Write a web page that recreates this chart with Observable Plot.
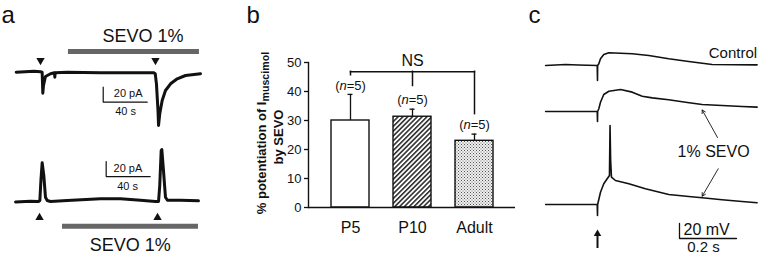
<!DOCTYPE html>
<html><head><meta charset="utf-8">
<script src="https://cdn.jsdelivr.net/npm/d3@7"></script>
<script src="https://cdn.jsdelivr.net/npm/@observablehq/plot@0.6"></script>
<style>
body{margin:0;background:#fff;}
#fig{position:relative;width:760px;height:256px;background:#fff;overflow:hidden;}
#fig>div{position:absolute;top:0;}
#fig svg{overflow:visible;display:block;}
</style></head><body><div id="fig"></div>
<script>
// ================= DATA =================
// Panel a: whole-cell currents (time in s from start of trace, current in pA relative to baseline)
const aTopTime       = [0, 16, 22.1, 23.6, 24.2, 24.8, 26.6, 31.2, 34.8, 35.1, 35.5, 46.4, 76.6, 106.6, 125.1, 126.4, 127.5, 128.9, 129.4, 130.5, 132.7, 135.7, 140.3, 146.4, 153.9, 167.5];
const aTopCurrent    = [0, 1.3, 0.5, 0, -28, -17.7, -5.7, -2.1, -0.8, -6.7, -0.8, 0, -0.8, -0.8, -0.8, -2.1, -15.5, -51, -71, -55.5, -37.7, -24.4, -15.5, -8.8, -4.4, -2.1];
const aBottomTime    = [-0.6, 13, 20.3, 21.5, 22.5, 23.6, 25.1, 26.6, 28.2, 31.2, 46.4, 76.6, 94.8, 113, 126.6, 129.4, 130.5, 131.8, 132.4, 133.9, 135.7, 137.5, 149.5, 165.7];
const aBottomCurrent = [-0.7, 0.4, 0, 1.3, 28.9, 51.6, 34.7, 5.7, 1.3, 0, 1.3, 3.6, 3.6, 1.7, 0, 0, 21.3, 68, 69.3, 41.3, 5.7, 1.7, 1.7, 0.9];
const aTopPuffTimes    = [22.1, 126.6];
const aBottomPuffTimes = [21.2, 128.5];
const aTopSevo    = [47.5, 166.6];   // application start / end (s)
const aBottomSevo = [42.1, 165.7];
const aSevoLabel  = "SEVO 1%";
const aScaleBar   = [20, 40];        // pA, s

// Panel b: % potentiation of I_muscimol by SEVO
const ages            = ["P5", "P10", "Adult"];
const potentiation    = [30.0, 31.3, 23.0];
const potentiationSem = [9.0, 2.6, 2.3];
const nCells          = [5, 5, 5];
const yTicksB         = [0, 10, 20, 30, 40, 50];
const nsLegEnds       = [45.6, 41.9, 32.2];
const nsTop           = 46.8;

// Panel c: membrane potential (time in ms from stimulus, mV relative to resting level)
const cControlTime = [-182, -112, -67, -1, 0, 0.5, 4.6, 10.5, 22, 40, 122, 180, 250, 320, 402, 484, 560];
const cControlV    = [0, 1.3, 0.7, 0, -20, 0, 2.3, 8.9, 14.7, 16.9, 15.6, 13.3, 8.9, 5.3, 1.3, 0.9, 0.9];
const cSevoTime    = [-182, -1, 0, 0.5, 4.6, 10.5, 22, 40, 81, 122, 157, 192, 250, 309, 367, 437, 507, 560];
const cSevoV       = [0, 0, -13.3, 0, 3.6, 12.4, 22.7, 27, 29.3, 25.8, 20.4, 18.2, 15.6, 12.4, 9.3, 8, 6.7, 5.8];
const cSpikeTime   = [-182, -1, 0, 0.5, 10.5, 22, 34, 42, 44, 46, 49, 63, 110, 168, 250, 320, 367, 437, 507, 560];
const cSpikeV      = [0, 0, -14.7, 0, 16.4, 27.6, 34.3, 38.7, 105.3, 60, 36.4, 32, 27.6, 20.9, 13.3, 10.7, 8.9, 6.3, 4, 2.3];
const cScaleBar    = [20, 200];      // mV, ms

// ================= LAYOUT =================
const FONT = '"Liberation Sans", Arial, Helvetica, sans-serif';
const INK = "#111";
const H = 256;
const PER_PX = 20 / 15;   // pA (or mV) per pixel
const fig = document.getElementById("fig");
function place(svg, left) { const d = document.createElement("div"); d.style.left = left + "px"; d.appendChild(svg); fig.appendChild(d); return svg; }
const rows = (xs, ys) => xs.map((x, i) => ({x, y: ys[i]}));
const traceY = (basePx) => ({domain: [(basePx - H) * PER_PX, basePx * PER_PX], axis: null});
const style = {fontFamily: FONT, background: "transparent", color: INK, overflow: "visible"};
const lShape = (cx, cy, up, right) => [[cx, cy + up], [cx, cy], [cx + right, cy]];
const panelLabel = (t, dx) => Plot.text([t], {frameAnchor: "top-left", textAnchor: "start", dx, dy: 5, lineAnchor: "top", fontSize: 24, fill: INK});

// ---------- panel a ----------
const A_W = 230, A_PX_PER_S = 1.1, A_T0 = 15.7;
const aX = {domain: [-A_T0 / A_PX_PER_S, (A_W - A_T0) / A_PX_PER_S], axis: null};

place(Plot.plot({
  width: A_W, height: H, margin: 0, style, x: aX, y: traceY(71.7),
  marks: [
    panelLabel("a", 1),
    Plot.text([aSevoLabel], {x: 115.3, y: 47.6, fontSize: 18, fill: INK}),
    Plot.ruleY([aTopSevo], {y: 27.6, x1: d => d[0], x2: d => d[1], stroke: "#666", strokeWidth: 5}),
    Plot.dot(aTopPuffTimes, {x: d => d, y: 15.6, symbol: "triangle", r: 3.1, fill: INK, stroke: "none", rotate: 180}),
    Plot.line(rows(aTopTime, aTopCurrent), {x: "x", y: "y", stroke: INK, strokeWidth: 3}),
    Plot.line(lShape(79.1, -40, aScaleBar[0], aScaleBar[1]), {x: d => d[0], y: d => d[1], stroke: INK, strokeWidth: 1.2, strokeLinejoin: "miter"}),
    Plot.text([`${aScaleBar[0]} pA`], {x: 88.7, y: -28.8, textAnchor: "start", fontSize: 11, fill: INK}),
    Plot.text([`${aScaleBar[1]} s`], {x: 99.4, y: -52, fontSize: 11, fill: INK})
  ]
}), 0);

place(Plot.plot({
  width: A_W, height: H, margin: 0, style, x: aX, y: traceY(201),
  marks: [
    Plot.line(rows(aBottomTime, aBottomCurrent), {x: "x", y: "y", stroke: INK, strokeWidth: 3}),
    Plot.line(lShape(81.8, 33.3, aScaleBar[0], aScaleBar[1]), {x: d => d[0], y: d => d[1], stroke: INK, strokeWidth: 1.2, strokeLinejoin: "miter"}),
    Plot.text([`${aScaleBar[0]} pA`], {x: 88.5, y: 44, textAnchor: "start", fontSize: 11, fill: INK}),
    Plot.text([`${aScaleBar[1]} s`], {x: 101.2, y: 20, fontSize: 11, fill: INK}),
    Plot.dot(aBottomPuffTimes, {x: d => d, y: -21.3, symbol: "triangle", r: 3.1, fill: INK, stroke: "none"}),
    Plot.ruleY([aBottomSevo], {y: -32.9, x1: d => d[0], x2: d => d[1], stroke: "#666", strokeWidth: 5}),
    Plot.text([aSevoLabel], {x: 103.6, y: -58.7, fontSize: 18, fill: INK})
  ]
}), 0);

// ---------- panel b ----------
const bRows = ages.map((age, i) => ({age, mean: potentiation[i], top: potentiation[i] + potentiationSem[i], n: nCells[i]}));
const barFill = {P5: "white", P10: "url(#hatchB)", Adult: "url(#stippleB)"};
const Y_LABEL_1 = "% potentiation of Imuscimol";
const Y_LABEL_2 = "by SEVO";
const svgB = place(Plot.plot({
  width: 300, height: H, marginLeft: 78, marginRight: 15, marginTop: 62, marginBottom: 49, style,
  x: {domain: ages, paddingInner: 0.39, paddingOuter: 0.36, axis: null},
  y: {domain: [0, 50], axis: null},
  marks: [
    Plot.text(["b"], {frameAnchor: "top-left", textAnchor: "start", dx: -62, dy: -57, lineAnchor: "top", fontSize: 24, fill: INK}),
    Plot.ruleX(bRows, {x: "age", y1: "mean", y2: "top", stroke: INK, strokeWidth: 1.3}),
    Plot.tickY(bRows, {x: "age", y: "top", stroke: INK, strokeWidth: 1.3, insetLeft: 16.5, insetRight: 16.5}),
    ...ages.map(age => Plot.barY(bRows.filter(r => r.age === age), {x: "age", y: "mean", fill: barFill[age], stroke: INK, strokeWidth: 1.4})),
    Plot.frame({anchor: "left", stroke: INK, strokeWidth: 1.4}),
    Plot.ruleY([0], {stroke: INK, strokeWidth: 1.4}),
    Plot.axisY({ticks: yTicksB, tickSize: 4, tickPadding: 3, fontSize: 13, label: null, stroke: INK, strokeWidth: 1.3}),
    Plot.axisX({tickSize: 0, tickPadding: 14, fontSize: 16, label: null}),
    Plot.text([Y_LABEL_1], {frameAnchor: "left", textAnchor: "middle", rotate: -90, dx: -47, dy: -2, fontSize: 13, fontWeight: "bold", fill: INK}),
    Plot.text([Y_LABEL_2], {frameAnchor: "left", textAnchor: "middle", rotate: -90, dx: -30, dy: 2, fontSize: 13, fontWeight: "bold", fill: INK}),
    Plot.ruleX(ages, {x: d => d, y1: nsLegEnds, y2: nsTop, stroke: INK, strokeWidth: 1.5, strokeLinecap: "square"}),
    Plot.line([ages[0], ages[ages.length - 1]], {x: d => d, y: nsTop, stroke: INK, strokeWidth: 1.5, strokeLinecap: "square"}),
    Plot.text(["NS"], {x: () => ages[1], y: nsTop, dy: -11, fontSize: 16, fill: INK}),
    Plot.text(bRows, {x: "age", y: "top", dy: -9, text: d => `(n=${d.n})`, fontSize: 13, fill: INK})
  ]
}), 230);

// patterns + rich text in panel b
(function () {
  const s = d3.select(svgB);
  const defs = s.insert("defs", ":first-child");
  const hatch = defs.append("pattern").attr("id", "hatchB").attr("patternUnits", "userSpaceOnUse")
    .attr("width", 3.4).attr("height", 3.4).attr("patternTransform", "rotate(45)");
  hatch.append("rect").attr("width", 3.4).attr("height", 3.4).attr("fill", "white");
  hatch.append("line").attr("x1", 0.8).attr("y1", 0).attr("x2", 0.8).attr("y2", 3.4).attr("stroke", INK).attr("stroke-width", 1.4);
  const dots = defs.append("pattern").attr("id", "stippleB").attr("patternUnits", "userSpaceOnUse")
    .attr("width", 3).attr("height", 3);
  dots.append("rect").attr("width", 3).attr("height", 3).attr("fill", "#eeeeee");
  dots.append("rect").attr("x", 0).attr("y", 0).attr("width", 1).attr("height", 1).attr("fill", "#555");
  dots.append("rect").attr("x", 1.5).attr("y", 1.5).attr("width", 1).attr("height", 1).attr("fill", "#777");
  s.selectAll("text").each(function () {
    const t = d3.select(this);
    const c = this.textContent;
    if (c === Y_LABEL_1) {
      t.text(null);
      t.append("tspan").text("% potentiation of I");
      t.append("tspan").attr("font-size", "0.82em").attr("dy", "0.35em").text("muscimol");
    } else if (/^\(n=\d+\)$/.test(c)) {
      t.text(null);
      t.append("tspan").text("(");
      t.append("tspan").attr("font-style", "italic").text("n");
      t.append("tspan").text(c.slice(2));
    }
  });
})();

// ---------- panel c ----------
const C_W = 240, C_T0 = 77, C_PX_PER_MS = 0.285;
const cX = {domain: [-C_T0 / C_PX_PER_MS, (C_W - C_T0) / C_PX_PER_MS], axis: null};
const cLine = (t, v) => Plot.line(rows(t, v), {x: "x", y: "y", stroke: INK, strokeWidth: 1.6});

place(Plot.plot({
  width: C_W, height: H, margin: 0, style, x: cX, y: traceY(65),
  marks: [
    panelLabel("c", 8),
    cLine(cControlTime, cControlV),
    Plot.text(["Control"], {x: 560, y: 16.7, textAnchor: "end", fontSize: 15, fill: INK})
  ]
}), 520);

place(Plot.plot({
  width: C_W, height: H, margin: 0, style, x: cX, y: traceY(111),
  marks: [
    cLine(cSevoTime, cSevoV),
    Plot.arrow([{x1: 421, y1: -34.7, x2: 367.4, y2: 2}], {x1: "x1", y1: "y1", x2: "x2", y2: "y2", stroke: INK, strokeWidth: 0.9, headLength: 6})
  ]
}), 520);

place(Plot.plot({
  width: C_W, height: H, margin: 0, style, x: cX, y: traceY(204),
  marks: [
    cLine(cSpikeTime, cSpikeV),
    Plot.text(["1% SEVO"], {x: 407.4, y: 69.7, fontSize: 16, fill: INK}),
    Plot.arrow([{x1: 423.5, y1: 47.6, x2: 367.4, y2: 11.1}], {x1: "x1", y1: "y1", x2: "x2", y2: "y2", stroke: INK, strokeWidth: 0.9, headLength: 6}),
    Plot.ruleX([0], {y1: -58.7, y2: -39, stroke: INK, strokeWidth: 2}),
    Plot.dot([0], {x: d => d, y: -39.2, symbol: "triangle", r: 2.8, fill: INK, stroke: "none"}),
    Plot.line(lShape(287.7, -45.3, cScaleBar[0], cScaleBar[1]), {x: d => d[0], y: d => d[1], stroke: INK, strokeWidth: 1.3, strokeLinejoin: "miter"}),
    Plot.text([`${cScaleBar[0]} mV`], {x: 301.8, y: -34, textAnchor: "start", fontSize: 16, fill: INK}),
    Plot.text([`${cScaleBar[1] / 1000} s`], {x: 372, y: -56.5, fontSize: 15, fill: INK})
  ]
}), 520);
</script>
</body></html>
